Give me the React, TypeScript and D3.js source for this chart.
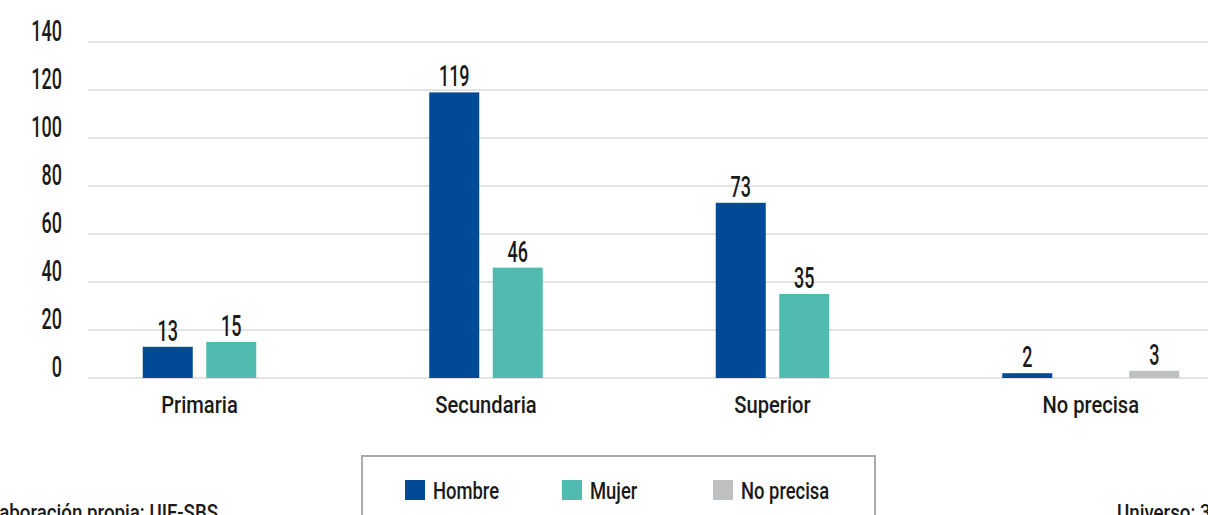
import React from 'react'
import * as d3 from 'd3'

const categories = ['Primaria', 'Secundaria', 'Superior', 'No precisa']
const seriesNames = ['Hombre', 'Mujer', 'No precisa']
const hombre = [13, 119, 73, 2]
const mujer = [15, 46, 35, 0]
const noPrecisa = [null, null, null, 3]
const yTicks = [0, 20, 40, 60, 80, 100, 120, 140]
const colors = ['#004a98', '#52bbb0', '#bfc0c2']

const FONT = 'Roboto, "DejaVu Sans Condensed", sans-serif'
const INK = '#1a1a1a'

const W = 1208
const H = 515

// condensed text: the reference uses a narrow DIN-like face
const CText = ({ x, y, size, sx, anchor = 'start', children }: any) => (
  <text
    transform={`translate(${x},${y}) scale(${sx},1)`}
    textAnchor={anchor}
    fontSize={size}
    fontWeight={500}
    fill={INK}
  >
    {children}
  </text>
)

const App = () => {
  const seriesValues = [hombre, mujer, noPrecisa]

  const x = d3.scaleBand().domain(categories).range([88, 1234]).paddingInner(0).paddingOuter(0)
  const slot = d3.scaleLinear().domain([0, 2]).range([-63.5, 63.5])
  const y = d3.scaleLinear().domain([0, 140]).range([378, 42])

  const barW = 50

  const groups = categories.map((cat, ci) => {
    const cx = (x(cat) || 0) + x.bandwidth() / 2
    const present = seriesValues
      .map((vals, si) => ({ si, v: vals[ci], cx: cx + slot(si) }))
      .filter(d => d.v !== null && d.v !== undefined)
    const labelX = d3.mean(present, d => d.cx) || cx
    return { cat, present, labelX }
  })

  const legendX = [405, 562, 713]

  return (
    <div style={{ position: 'absolute', left: 0, top: 0 }}>
      <svg width={W} height={H} style={{ display: 'block', fontFamily: FONT }}>
        {yTicks.map(t => (
          <g key={t}>
            <line x1={88} x2={W} y1={y(t)} y2={y(t)} stroke="#c6c6c6" strokeWidth={1.2} />
            <CText x={62} y={y(t) - 1} size={29} sx={0.62} anchor="end">{t}</CText>
          </g>
        ))}

        {groups.map(g => (
          <g key={g.cat}>
            {g.present.map(b => (
              <g key={b.si}>
                <rect x={b.cx - barW / 2} y={y(b.v as number)} width={barW} height={y(0) - y(b.v as number)} fill={colors[b.si]} />
                {(b.v as number) > 0 && (
                  <CText x={b.cx} y={y(b.v as number) - 6} size={29} sx={0.62} anchor="middle">{b.v}</CText>
                )}
              </g>
            ))}
            <CText x={g.labelX} y={413} size={24} sx={0.84} anchor="middle">{g.cat}</CText>
          </g>
        ))}

        <rect x={362} y={456} width={513} height={80} fill="none" stroke="#aaaaaa" strokeWidth={2} />
        {seriesNames.map((s, i) => (
          <g key={s}>
            <rect x={legendX[i]} y={480} width={20} height={20} fill={colors[i]} />
            <CText x={legendX[i] + 28} y={499} size={23} sx={0.8}>{s}</CText>
          </g>
        ))}

        <CText x={218} y={520} size={22} sx={0.85} anchor="end">Elaboración propia: UIF-SBS</CText>
        <CText x={1117} y={520} size={22} sx={0.85}>Universo: 306</CText>
      </svg>
    </div>
  )
}

export default App
